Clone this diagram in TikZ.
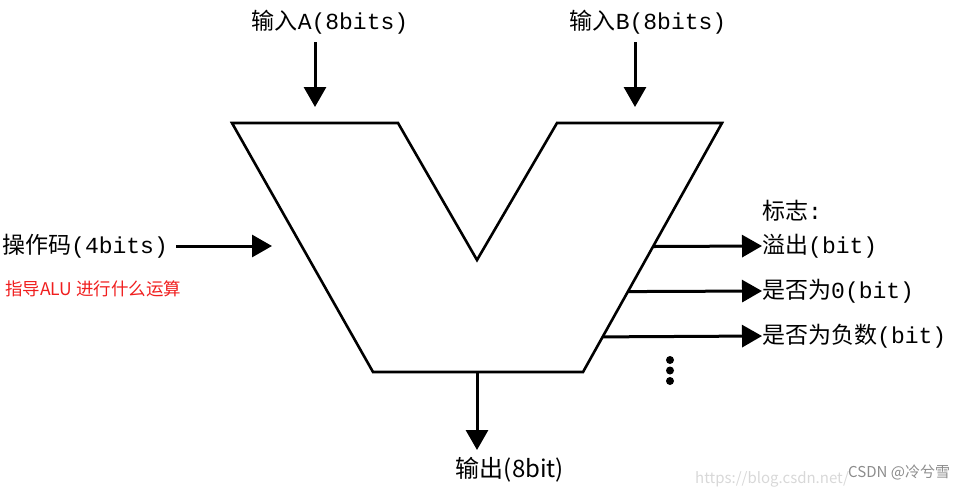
\documentclass[tikz,border=0pt]{standalone}
\usepackage{fontspec}
\setmonofont{Liberation Mono}
\newfontfamily\cjk{Noto Sans CJK SC}
\usepackage{xcolor}
\usetikzlibrary{positioning, arrows.meta, calc}
\definecolor{notered}{RGB}{240,30,30}
\definecolor{markgray}{RGB}{200,200,200}

\begin{document}
\begin{tikzpicture}[
  x=1pt, y=-1pt,
  every node/.style={inner sep=0pt},
  lbl/.style={font=\fontsize{23}{26}\selectfont\cjk},
  arrow/.style={-{Triangle[length=20pt,width=22pt]}, line width=3pt},
  body/.style={line width=2.6pt, line join=miter},
]
\useasboundingbox (0,0) rectangle (963,491);

% ALU body
\coordinate (tl) at (232,123);
\coordinate (til) at (398,123);
\coordinate (vb) at (477,260);
\coordinate (tir) at (557,123);
\coordinate (tr) at (722,123);
\coordinate (br) at (583,372);
\coordinate (bl) at (373,372);
\draw[body] (tl) -- (til) -- (vb) -- (tir) -- (tr) -- (br) -- (bl) -- cycle;

% Inputs
\node[lbl] (inA) at (330,22) {输入\texttt{A(8bits)}};
\node[lbl] (inB) at (648,22) {输入\texttt{B(8bits)}};
\coordinate (inAend) at (315,107);
\coordinate (inBend) at (635,107);
\draw[arrow] (inAend |- 0,42) -- (inAend);
\draw[arrow] (inBend |- 0,42) -- (inBend);

% Opcode
\node[lbl, anchor=west] (op) at (2,246) {操作码\texttt{(4bits)}};
\coordinate (opend) at (272,246);
\draw[arrow] (op.east) ++(8,0) -- (opend);
\node[anchor=west, font=\fontsize{17.5}{19}\selectfont\cjk, text=notered] (opnote) at (5,289) {指导ALU 进行什么运算};

% Flags
\node[lbl, anchor=west] (flags) at (762,211) {标志\texttt{:}};
\node[lbl, anchor=west] (ovf) at (762,246) {溢出\texttt{(bit)}};
\node[lbl, anchor=west] (zero) at (762,291) {是否为\texttt{0(bit)}};
\node[lbl, anchor=west] (neg) at (762,336) {是否为负数\texttt{(bit)}};
\coordinate (fovf) at ($(tr)!0.496!(br)$);
\coordinate (fzero) at ($(tr)!0.677!(br)$);
\coordinate (fneg) at ($(tr)!0.859!(br)$);
\draw[arrow] (fovf) -- (ovf.west);
\draw[arrow] (fzero) -- (zero.west);
\draw[arrow] (fneg) -- (neg.west);
\foreach \y in {360,370.5,381}
  \fill (670,\y) circle (4pt);

% Output
\node[font=\fontsize{24}{26}\selectfont\cjk] (out) at (510,470) {输出(8bit)};
\coordinate (outend) at (477,450);
\draw[arrow] (vb |- bl) -- (outend);

% Watermark
\node[anchor=west, font=\fontsize{15}{16}\selectfont\cjk, text=markgray!70] (url) at (695,479) {https://blog.csdn.net/};
\node[anchor=west, font=\fontsize{15}{16}\selectfont\cjk, text=black!45] (csdn) at (848,472) {CSDN @冷兮雪};
\end{tikzpicture}
\end{document}
